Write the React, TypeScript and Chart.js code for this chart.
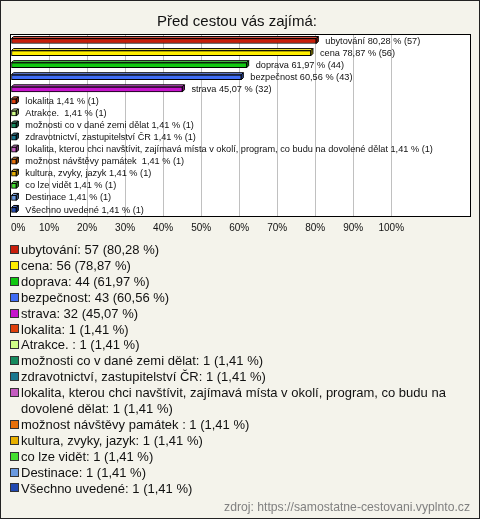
import { useEffect, useRef } from 'react';
import { Chart, registerables } from 'chart.js';

Chart.register(...registerables);

const TITLE = 'Před cestou vás zajímá:';
const SOURCE = 'zdroj: https://samostatne-cestovani.vyplnto.cz';

const CATEGORIES = [
  'ubytování',
  'cena',
  'doprava',
  'bezpečnost',
  'strava',
  'lokalita',
  'Atrakce. ',
  'možnosti co v dané zemi dělat',
  'zdravotnictví, zastupitelství ČR',
  'lokalita, kterou chci navštívit, zajímavá místa v okolí, program, co budu na dovolené dělat',
  'možnost návštěvy památek ',
  'kultura, zvyky, jazyk',
  'co lze vidět',
  'Destinace',
  'Všechno uvedené',
];

const COUNTS = [57, 56, 44, 43, 32, 1, 1, 1, 1, 1, 1, 1, 1, 1, 1];

const PERCENTS = [80.28, 78.87, 61.97, 60.56, 45.07, 1.41, 1.41, 1.41, 1.41, 1.41, 1.41, 1.41, 1.41, 1.41, 1.41];

const COLORS = [
  '#c81e0a',
  '#ffee00',
  '#11c811',
  '#3f6cf5',
  '#c615cc',
  '#e0400c',
  '#d0ff88',
  '#168a5e',
  '#1a7890',
  '#c45cc0',
  '#e8700a',
  '#e8b000',
  '#44e030',
  '#6a9ae0',
  '#2048b0',
];

const X_TICK_MAX = 100;
const X_AXIS_MAX = 120.7;
const X_STEP = 10;

const FONT = '"Liberation Sans", Arial, sans-serif';

const fmtPct = (v: number) => v.toFixed(2).replace('.', ',');

function shade(hex: string, f: number) {
  const n = parseInt(hex.slice(1), 16);
  let r = (n >> 16) & 255, g = (n >> 8) & 255, b = n & 255;
  if (f >= 0) {
    r = Math.round(r + (255 - r) * f);
    g = Math.round(g + (255 - g) * f);
    b = Math.round(b + (255 - b) * f);
  } else {
    r = Math.round(r * (1 + f));
    g = Math.round(g * (1 + f));
    b = Math.round(b * (1 + f));
  }
  return `rgb(${r},${g},${b})`;
}

const W = 480;
const H = 519;
const D = 2;

const framePlugin = {
  id: 'frame',
  beforeDraw(chart: any) {
    const ctx = chart.ctx;
    const a = chart.chartArea;
    ctx.save();
    ctx.fillStyle = '#f4f3eb';
    ctx.fillRect(0, 0, W, H);
    ctx.strokeStyle = '#222';
    ctx.lineWidth = 1;
    ctx.strokeRect(0.5, 0.5, W - 1, H - 1);
    ctx.fillStyle = '#ffffff';
    ctx.fillRect(a.left, a.top, a.right - a.left, a.bottom - a.top);
    ctx.fillStyle = '#111';
    ctx.font = `15px ${FONT}`;
    ctx.textAlign = 'center';
    ctx.textBaseline = 'alphabetic';
    ctx.fillText(TITLE, 237, 26);
    ctx.restore();
  },
  afterDatasetsDraw(chart: any) {
    const ctx = chart.ctx;
    const meta = chart.getDatasetMeta(0);
    ctx.save();
    meta.data.forEach((el: any, i: number) => {
      const p = el.getProps(['x', 'y', 'base', 'height'], true);
      const left = Math.min(p.base, p.x);
      const right = Math.max(p.base, p.x);
      const top = p.y - p.height / 2;
      const bottom = p.y + p.height / 2;
      ctx.lineWidth = 1;
      ctx.strokeStyle = '#000';
      // top face
      ctx.beginPath();
      ctx.moveTo(left, top);
      ctx.lineTo(left + D, top - D);
      ctx.lineTo(right + D, top - D);
      ctx.lineTo(right, top);
      ctx.closePath();
      ctx.fillStyle = shade(COLORS[i], 0.25);
      ctx.fill();
      ctx.stroke();
      // side face
      ctx.beginPath();
      ctx.moveTo(right, top);
      ctx.lineTo(right + D, top - D);
      ctx.lineTo(right + D, bottom - D);
      ctx.lineTo(right, bottom);
      ctx.closePath();
      ctx.fillStyle = shade(COLORS[i], -0.35);
      ctx.fill();
      ctx.stroke();
      // label
      ctx.fillStyle = '#111';
      ctx.font = `9.2px ${FONT}`;
      ctx.textAlign = 'left';
      ctx.textBaseline = 'middle';
      ctx.fillText(`${CATEGORIES[i]} ${fmtPct(PERCENTS[i])} % (${COUNTS[i]})`, right + D + 7, p.y);
    });
    ctx.restore();
  },
  afterDraw(chart: any) {
    const ctx = chart.ctx;
    const a = chart.chartArea;
    ctx.save();
    ctx.strokeStyle = '#000';
    ctx.lineWidth = 1;
    ctx.strokeRect(a.left - 0.5, a.top - 0.5, a.right - a.left + 1, a.bottom - a.top + 1);

    // legend
    ctx.font = `13px ${FONT}`;
    ctx.textAlign = 'left';
    ctx.textBaseline = 'alphabetic';
    const lineH = 15.9;
    const textX = 21;
    const maxW = 452;
    let baseline = 254;
    CATEGORIES.forEach((cat, i) => {
      const text = `${cat}: ${COUNTS[i]} (${fmtPct(PERCENTS[i])} %)`;
      ctx.fillStyle = COLORS[i];
      ctx.fillRect(10.5, Math.round(baseline) - 8.5, 8, 8);
      ctx.strokeStyle = '#333';
      ctx.strokeRect(10.5, Math.round(baseline) - 8.5, 8, 8);
      ctx.fillStyle = '#111';
      const words = text.split(' ');
      let line = '';
      const lines: string[] = [];
      words.forEach((w) => {
        const test = line ? line + ' ' + w : w;
        if (line && ctx.measureText(test).width > maxW) {
          lines.push(line);
          line = w;
        } else {
          line = test;
        }
      });
      lines.push(line);
      lines.forEach((l) => {
        ctx.fillText(l, textX, baseline);
        baseline += lineH;
      });
    });

    ctx.fillStyle = '#808080';
    ctx.font = `12.2px ${FONT}`;
    ctx.textAlign = 'right';
    ctx.fillText(SOURCE, 470, 511);
    ctx.restore();
  },
};

export default function App() {
  const ref = useRef<HTMLCanvasElement | null>(null);
  useEffect(() => {
    if (!ref.current) return;
    const chart = new Chart(ref.current, {
      type: 'bar',
      data: {
        labels: CATEGORIES,
        datasets: [
          {
            data: PERCENTS,
            backgroundColor: COLORS,
            borderColor: '#000',
            borderWidth: 1,
            borderSkipped: false,
            barThickness: 5,
          },
        ],
      },
      options: {
        indexAxis: 'y',
        animation: false,
        responsive: false,
        maintainAspectRatio: false,
        layout: { padding: { left: 11, right: 10, top: 35, bottom: 283 } },
        plugins: {
          legend: { display: false },
          tooltip: { enabled: false },
          title: { display: false },
        },
        scales: {
          x: {
            min: 0,
            max: X_AXIS_MAX,
            afterFit: (s: any) => {
              s.height = 20;
            },
            ticks: {
              stepSize: X_STEP,
              autoSkip: false,
              maxRotation: 0,
              padding: 6,
              align: 'inner',
              color: '#111',
              font: { family: FONT, size: 10 },
              callback: (v: any) => (Number(v) <= X_TICK_MAX && Number(v) % X_STEP === 0 ? `${v}%` : ''),
            },
            grid: {
              drawTicks: false,
              color: (c: any) =>
                c.tick && c.tick.value > 0 && c.tick.value <= X_TICK_MAX ? '#c0c0c0' : 'rgba(0,0,0,0)',
            },
            border: { display: false },
          },
          y: {
            display: false,
            offset: true,
            grid: { display: false },
          },
        },
      },
      plugins: [framePlugin],
    } as any);
    return () => chart.destroy();
  }, []);
  return (
    <div style={{ position: 'absolute', left: 0, top: 0, width: W, height: H }}>
      <canvas ref={ref} width={W} height={H} style={{ display: 'block', width: W, height: H }} />
    </div>
  );
}
